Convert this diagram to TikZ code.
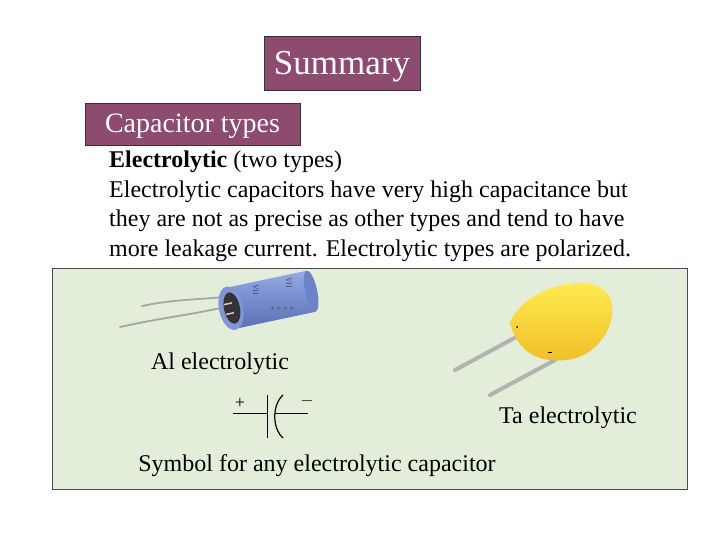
\documentclass[tikz,border=0pt]{standalone}
\usepackage{fontspec}
\setmainfont{Liberation Serif}
\definecolor{mauve}{RGB}{141,75,111}
\definecolor{pale}{RGB}{226,237,218}
\definecolor{blueT}{RGB}{150,170,230}
\definecolor{blueB}{RGB}{90,110,180}
\definecolor{blueE}{RGB}{110,130,200}
\definecolor{blueF}{RGB}{130,150,215}
\definecolor{yelT}{RGB}{255,235,80}
\definecolor{yelB}{RGB}{240,190,40}
\begin{document}
\begin{tikzpicture}[x=1pt,y=-1pt,
  title/.style={draw=black!80,fill=mauve,text=white,inner sep=0pt},
  lbl/.style={font=\fontsize{24}{28}\selectfont,inner sep=0pt},
  lead/.style={gray!70,line cap=round}]
\useasboundingbox (0,0) rectangle (720,540);
\node[title,minimum width=156,minimum height=54] (sum) at (342,63) {};
\node[text=white,font=\fontsize{35}{38}\selectfont,inner sep=0pt] (sumt) at ([yshift=-4pt]sum.center) {Summary};
\node[title,minimum width=215,minimum height=42] (ct) at (192.5,124) {};
\node[text=white,font=\fontsize{28}{30}\selectfont,inner sep=0pt] (ctt) at ([yshift=-2pt]ct.center) {Capacitor types};
\node[lbl,anchor=north west,align=left,font=\fontsize{24}{29.5}\selectfont] (txt) at (109,151) {\textbf{Electrolytic} (two types)\\Electrolytic capacitors have very high capacitance but\\they are not as precise as other types and tend to have\\more leakage current. Electrolytic types are polarized.};
\node[draw=black!70,fill=pale,minimum width=635,minimum height=221,inner sep=0pt] (box) at (369.5,378.5) {};
% Al capacitor
\coordinate (l1) at (225,297); \coordinate (l2) at (225,307);
\draw[lead,line width=1.8pt] (142,306) .. controls (170,300) and (190,300) .. (l1);
\draw[lead,line width=1.8pt] (120,327) .. controls (160,318) and (190,315) .. (l2);
\begin{scope}[rotate around={12:(265,300)}]
\shade[top color=blueT,bottom color=blueB] (230,280) rectangle (312,322);
\fill[blueE] (312,301) ellipse (6 and 21);
\fill[blueF] (230,301) ellipse (12 and 22);
\fill[black!80] (231,301) ellipse (8 and 16);
\draw[white!60!gray,line width=1.5pt] (224,296)--(232,296) (224,306)--(232,306);
\node[font=\footnotesize,black!70,rotate=-90] (m1) at (258,288) {VII};
\node[font=\footnotesize,black!70,rotate=-90] (m2) at (292,288) {VII};
\node[font=\small,black!70] (pl) at (280,312) {+\,+\,+\,+};
\end{scope}
% Ta capacitor
\draw[lead,line width=4pt,gray!60] (455,370) -- (520,335);
\draw[lead,line width=4pt,gray!60] (490,395) -- (555,360);
\shade[top color=yelT,bottom color=yelB]
 (510,322) .. controls (520,300) and (550,282) .. (585,283) .. controls (612,285) and (620,310) .. (605,335)
 .. controls (590,358) and (570,362) .. (550,360) .. controls (530,358) and (515,345) .. cycle;
\fill[black] (517,327) circle (1);
\draw[black] (548,352)--(552,352);
% symbol
\coordinate (s1) at (233,413); \coordinate (s2) at (308,413);
\draw[line width=1pt] (s1) -- (267,413) (267,395) -- (267,438);
\draw[line width=1.2pt] (283,395) .. controls (272,405) and (272,428) .. (283,438);
\draw[line width=1pt] (275,413) -- (s2);
\node[font=\fontsize{18}{20}\selectfont] (plus) at (240,403) {+};
\node[font=\fontsize{18}{20}\selectfont] (minus) at (307,401) {$-$};
\node[lbl] (al) at (220,364) {Al electrolytic};
\node[lbl] (ta) at (568,418) {Ta electrolytic};
\node[lbl] (sym) at (317,466) {Symbol for any electrolytic capacitor};
\end{tikzpicture}
\end{document}
